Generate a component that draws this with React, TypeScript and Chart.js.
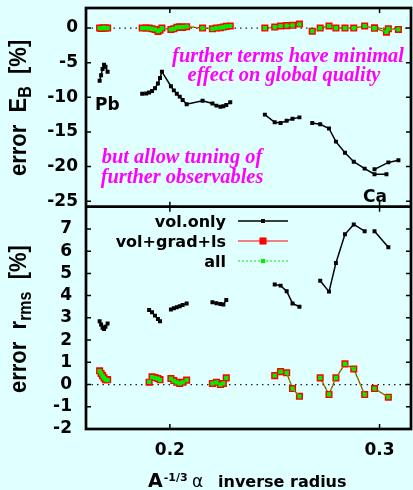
import React, { useEffect, useRef } from "react";
import { Chart, registerables } from "chart.js";

Chart.register(...registerables);

// x = A^(-1/3); null separates isotope chains
const X_VALUES: (number | null)[] = [
  0.1665, 0.1672, 0.1679, 0.1686, 0.1693, 0.1703, null,
  0.1868, 0.1887, 0.1901, 0.1915, 0.1929, 0.1943, 0.1953, 0.1962,
  0.2005, 0.2019, 0.2033, 0.2047, 0.2061, 0.208, 0.2156,
  0.2203, 0.2222, 0.2241, 0.2255, 0.2269, 0.2288, null,
  0.2453, 0.25, 0.2528, 0.2557, 0.2585, 0.2618, null,
  0.2679, 0.2717, 0.2759, 0.2792, 0.2835, 0.2877, 0.2929, 0.2976, 0.3033, null,
  0.2976, 0.3042, 0.309,
];

// error E_B [%]
const EB_VOL: (number | null)[] = [
  -7.6, -6.8, -5.9, -5.3, -5.6, -6.3, null,
  -9.5, -9.45, -9.3, -9.1, -8.7, -8.0, -7.2, -6.3,
  -8.4, -9.0, -9.5, -9.9, -10.4, -11.0, -10.5,
  -10.9, -11.2, -11.35, -11.3, -11.1, -10.7, null,
  -12.5, -13.6, -13.7, -13.4, -13.1, -12.9, null,
  -13.7, -13.9, -14.5, -16.4, -18.0, -19.3, -20.3, -21.1, -21.1, null,
  -20.4, -19.4, -19.1,
];
const EB_GRAD: (number | null)[] = [
  0, -0.05, 0, 0, 0, 0, null,
  0, 0, 0, -0.1, -0.2, -0.5, -0.3, 0,
  -0.2, -0.1, 0.1, 0.2, 0.1, 0.2, 0,
  -0.1, 0, 0.05, 0.15, 0.25, 0.3, null,
  0, 0.15, 0.3, 0.35, 0.4, 0.6, null,
  -0.45, 0, 0.3, 0, 0, 0, 0.3, 0, -0.6, null,
  0, -0.1, -0.2,
];
const EB_ALL: (number | null)[] = [
  0, 0, 0, 0.05, 0, 0, null,
  0, 0, -0.05, -0.1, -0.2, -0.45, -0.3, 0,
  -0.2, -0.1, 0.1, 0.15, 0.15, 0.2, 0,
  -0.1, 0, 0.05, 0.15, 0.25, 0.3, null,
  0, 0.15, 0.3, 0.35, 0.4, 0.55, null,
  -0.45, 0, 0.3, 0, 0, 0, 0.3, 0, -0.55, null,
  0, -0.1, -0.2,
];

// error r_rms [%]
const R_VOL: (number | null)[] = [
  2.85, 2.7, 2.55, 2.5, 2.6, 2.75, null,
  null, null, 3.35, 3.25, 3.1, 2.95, 2.85, null,
  3.38, 3.43, 3.48, 3.52, 3.58, 3.65, null,
  3.7, 3.66, 3.62, 3.6, 3.8, null, null,
  null, 4.5, 4.45, 4.2, 3.65, 3.5, null,
  null, 4.67, 4.18, 5.47, 6.76, 7.2, 6.9, null, null, null,
  6.9, 6.18, null,
];
const R_GRAD: (number | null)[] = [
  0.62, 0.5, 0.4, 0.3, 0.22, 0.22, null,
  null, null, 0.1, 0.35, 0.32, 0.27, 0.22, null,
  0.27, 0.18, 0.1, 0.05, 0.1, 0.2, null,
  0.05, 0.1, 0.0, 0.05, 0.3, null, null,
  null, 0.4, 0.58, 0.53, -0.18, -0.53, null,
  null, 0.3, -0.45, 0.3, 0.93, 0.7, -0.45, null, null, null,
  -0.18, -0.57, null,
];
const R_ALL: (number | null)[] = [
  0.6, 0.5, 0.38, 0.3, 0.22, 0.2, null,
  null, null, 0.12, 0.33, 0.3, 0.27, 0.2, null,
  0.27, 0.17, 0.1, 0.05, 0.1, 0.2, null,
  0.05, 0.1, 0.0, 0.05, 0.3, null, null,
  null, 0.4, 0.58, 0.53, -0.18, -0.53, null,
  null, 0.3, -0.45, 0.3, 0.93, 0.7, -0.45, null, null, null,
  -0.18, -0.57, null,
];

const X_TICKS = [0.2, 0.3];
const EB_TICKS = [-25, -20, -15, -10, -5, 0];
const R_TICKS = [-2, -1, 0, 1, 2, 3, 4, 5, 6, 7];
const SERIES_LABELS = ["vol.only", "vol+grad+ls", "all"];
const NOTE_TOP = ["further terms have minimal", "effect on global quality"];
const NOTE_BOTTOM = ["but allow tuning of", "further observables"];
const CHAIN_LABELS = ["Pb", "Ca"];

const BG = "#e0ffff";
const MAGENTA = "#ff00ff";
const GREEN = "#00ee00";
const SANS = '"DejaVu Sans"';
const HELV = '"Liberation Sans"';
const SERIF = '"Liberation Serif"';

const STYLES = [
  { color: "#000000", lineWidth: 1.5, dash: [] as number[], radius: 2.8, order: 2 },
  { color: "#ff0000", lineWidth: 1.2, dash: [] as number[], radius: 5, order: 1 },
  { color: GREEN, lineWidth: 1.2, dash: [2, 2], radius: 3, order: 0 },
];

function toPoints(ys: (number | null)[]) {
  let lastX = X_VALUES.find((v) => v !== null) as number;
  return X_VALUES.map((x, i) => {
    if (x !== null) lastX = x;
    return { x: lastX, y: x === null ? null : ys[i] };
  });
}

function makeDataset(label: string, ys: (number | null)[], axis: string, s: typeof STYLES[number]) {
  return {
    label,
    data: toPoints(ys),
    yAxisID: axis,
    showLine: true,
    spanGaps: false,
    borderColor: s.color,
    backgroundColor: s.color,
    borderWidth: s.lineWidth,
    borderDash: s.dash,
    pointStyle: "rect",
    pointRadius: s.radius,
    pointHoverRadius: s.radius,
    pointBackgroundColor: s.color,
    pointBorderWidth: 0,
    order: s.order,
    tension: 0,
  };
}

function hText(ctx: CanvasRenderingContext2D, text: string, x: number, y: number, font: string, color: string, align: CanvasTextAlign, sx = 1) {
  ctx.save();
  ctx.font = font;
  ctx.fillStyle = color;
  ctx.textAlign = align;
  ctx.textBaseline = "alphabetic";
  ctx.translate(x, y);
  ctx.scale(sx, 1);
  ctx.fillText(text, 0, 0);
  ctx.restore();
}

type Piece = { text: string; font: string; dy?: number };
function vTitle(ctx: CanvasRenderingContext2D, pieces: Piece[], bx: number, yStart: number, sx: number) {
  ctx.save();
  ctx.translate(bx, yStart);
  ctx.scale(sx, 1);
  ctx.rotate(-Math.PI / 2);
  ctx.fillStyle = "#000";
  ctx.textAlign = "left";
  ctx.textBaseline = "alphabetic";
  let cur = 0;
  for (const p of pieces) {
    ctx.font = p.font;
    ctx.fillText(p.text, cur, p.dy || 0);
    cur += ctx.measureText(p.text).width;
  }
  ctx.restore();
}

const overlay = {
  id: "overlay",
  beforeDraw(chart: any) {
    const { ctx, width, height } = chart;
    ctx.save();
    ctx.fillStyle = BG;
    ctx.fillRect(0, 0, width, height);
    ctx.restore();
  },
  beforeDatasetsDraw(chart: any) {
    const { ctx, chartArea: ca } = chart;
    ctx.save();
    ctx.strokeStyle = "#222";
    ctx.lineWidth = 1.3;
    ctx.setLineDash([1.5, 4]);
    for (const id of ["yTop", "yBot"]) {
      const py = chart.scales[id].getPixelForValue(0);
      ctx.beginPath();
      ctx.moveTo(ca.left, py);
      ctx.lineTo(ca.right, py);
      ctx.stroke();
    }
    ctx.restore();
  },
  afterDatasetsDraw(chart: any) {
    const { ctx, chartArea: ca } = chart;
    const xs = chart.scales.x;
    const yT = chart.scales.yTop;
    const yB = chart.scales.yBot;
    ctx.save();
    ctx.strokeStyle = "#000";
    ctx.lineWidth = 1.5;
    ctx.beginPath();
    for (const v of X_TICKS) {
      const px = xs.getPixelForValue(v);
      ctx.moveTo(px, yT.top); ctx.lineTo(px, yT.top + 5);
      ctx.moveTo(px, yT.bottom); ctx.lineTo(px, yT.bottom - 5);
      ctx.moveTo(px, yB.top); ctx.lineTo(px, yB.top + 5);
      ctx.moveTo(px, yB.bottom); ctx.lineTo(px, yB.bottom - 5);
    }
    for (const [sc, ticks] of [[yT, EB_TICKS], [yB, R_TICKS]] as any) {
      for (const v of ticks) {
        const py = sc.getPixelForValue(v);
        ctx.moveTo(ca.left, py); ctx.lineTo(ca.left + 5, py);
        ctx.moveTo(ca.right, py); ctx.lineTo(ca.right - 5, py);
      }
    }
    ctx.stroke();
    ctx.lineWidth = 2.7;
    ctx.strokeRect(ca.left, ca.top, ca.right - ca.left, ca.bottom - ca.top);
    ctx.beginPath();
    ctx.moveTo(ca.left, yT.bottom);
    ctx.lineTo(ca.right, yT.bottom);
    ctx.stroke();
    ctx.restore();

    const noteFont = `italic bold 20px ${SERIF}`;
    hText(ctx, NOTE_TOP[0], 288, 61.5, noteFont, MAGENTA, "center", 1.02);
    hText(ctx, NOTE_TOP[1], 284, 81, noteFont, MAGENTA, "center", 1.02);
    hText(ctx, NOTE_BOTTOM[0], 182, 163, noteFont, MAGENTA, "center", 1.02);
    hText(ctx, NOTE_BOTTOM[1], 182, 183, noteFont, MAGENTA, "center", 1.02);

    hText(ctx, CHAIN_LABELS[0], 95, 110, `bold 17px ${SANS}`, "#000", "left");
    hText(ctx, CHAIN_LABELS[1], 363, 202, `bold 17px ${SANS}`, "#000", "left");

    for (let i = 0; i < 3; i++) {
      const s = STYLES[i];
      const y = 221 + 20 * i;
      hText(ctx, SERIES_LABELS[i], 226, y + 6, `bold 16px ${SANS}`, "#000", "right");
      ctx.save();
      ctx.strokeStyle = s.color;
      ctx.lineWidth = s.lineWidth;
      ctx.setLineDash(s.dash);
      ctx.beginPath();
      ctx.moveTo(238, y);
      ctx.lineTo(288, y);
      ctx.stroke();
      ctx.fillStyle = s.color;
      const side = s.radius * Math.SQRT2;
      ctx.fillRect(263 - side / 2, y - side / 2, side, side);
      ctx.restore();
    }

    const tf = `bold 22px ${HELV}`;
    const sf = `bold 16px ${HELV}`;
    vTitle(ctx, [
      { text: "error  E", font: tf },
      { text: "B", font: sf, dy: 5 },
      { text: "  [%]", font: tf },
    ], 25.5, 176, 1.1);
    vTitle(ctx, [
      { text: "error  r", font: tf },
      { text: "rms", font: sf, dy: 5 },
      { text: "  [%]", font: tf },
    ], 25.5, 393, 1.1);

    ctx.save();
    ctx.font = `bold 19px ${SANS}`;
    const aw = ctx.measureText("A").width;
    ctx.restore();
    hText(ctx, "A", 148, 487, `bold 19px ${SANS}`, "#000", "left");
    hText(ctx, "-1/3", 148 + aw + 1, 481, `bold 11px ${SANS}`, "#000", "left");
    hText(ctx, "\u03b1", 192, 487, `17px ${SANS}`, "#000", "left");
    hText(ctx, "inverse radius", 218, 487, `bold 16px ${SANS}`, "#000", "left");
  },
};

export default function App() {
  const ref = useRef<HTMLCanvasElement | null>(null);
  useEffect(() => {
    if (!ref.current) return;
    const tickFont = { family: "DejaVu Sans", size: 17, weight: "bold" as const };
    const chart = new Chart(ref.current, {
      type: "scatter",
      data: {
        datasets: [
          makeDataset(SERIES_LABELS[2], EB_ALL, "yTop", STYLES[2]),
          makeDataset(SERIES_LABELS[1], EB_GRAD, "yTop", STYLES[1]),
          makeDataset(SERIES_LABELS[0], EB_VOL, "yTop", STYLES[0]),
          makeDataset(SERIES_LABELS[2], R_ALL, "yBot", STYLES[2]),
          makeDataset(SERIES_LABELS[1], R_GRAD, "yBot", STYLES[1]),
          makeDataset(SERIES_LABELS[0], R_VOL, "yBot", STYLES[0]),
        ] as any,
      },
      options: {
        responsive: false,
        devicePixelRatio: 1,
        animation: false,
        events: [],
        layout: { padding: { top: 8, right: 2, left: 0, bottom: 0 } },
        plugins: { legend: { display: false }, tooltip: { enabled: false } },
        scales: {
          x: {
            type: "linear",
            position: "bottom",
            min: 0.16,
            max: 0.315,
            grid: { display: false, drawTicks: false },
            border: { display: false },
            ticks: { color: "#000", font: tickFont, padding: 11, autoSkip: false, maxRotation: 0, callback: (v: any) => Number(v).toFixed(1) },
            afterBuildTicks: (s: any) => { s.ticks = X_TICKS.map((v) => ({ value: v })); },
            afterFit: (s: any) => { s.height = 61; s.paddingLeft = 0; s.paddingRight = 0; },
          },
          yBot: {
            type: "linear",
            position: "left",
            stack: "panels",
            stackWeight: 222.3,
            min: -2,
            max: 8,
            grid: { display: false, drawTicks: false },
            border: { display: false },
            ticks: { color: "#000", font: tickFont, padding: 14, autoSkip: false, callback: (v: any) => String(v) },
            afterBuildTicks: (s: any) => { s.ticks = R_TICKS.map((v) => ({ value: v })); },
            afterFit: (s: any) => { s.width = 86; s.paddingTop = 0; s.paddingBottom = 0; },
          },
          yTop: {
            type: "linear",
            position: "left",
            stack: "panels",
            stackWeight: 198.7,
            min: -25.8,
            max: 2.9,
            grid: { display: false, drawTicks: false },
            border: { display: false },
            ticks: { color: "#000", font: tickFont, padding: 8, autoSkip: false, callback: (v: any) => String(v) },
            afterBuildTicks: (s: any) => { s.ticks = EB_TICKS.map((v) => ({ value: v })); },
            afterFit: (s: any) => { s.width = 86; s.paddingTop = 0; s.paddingBottom = 0; },
          },
        } as any,
      },
      plugins: [overlay],
    });
    return () => chart.destroy();
  }, []);

  return (
    <div style={{ position: "absolute", left: 0, top: 0, width: 413, height: 490, overflow: "hidden", background: BG }}>
      <canvas ref={ref} width={416} height={490} style={{ display: "block", width: 416, height: 490 }} />
    </div>
  );
}
